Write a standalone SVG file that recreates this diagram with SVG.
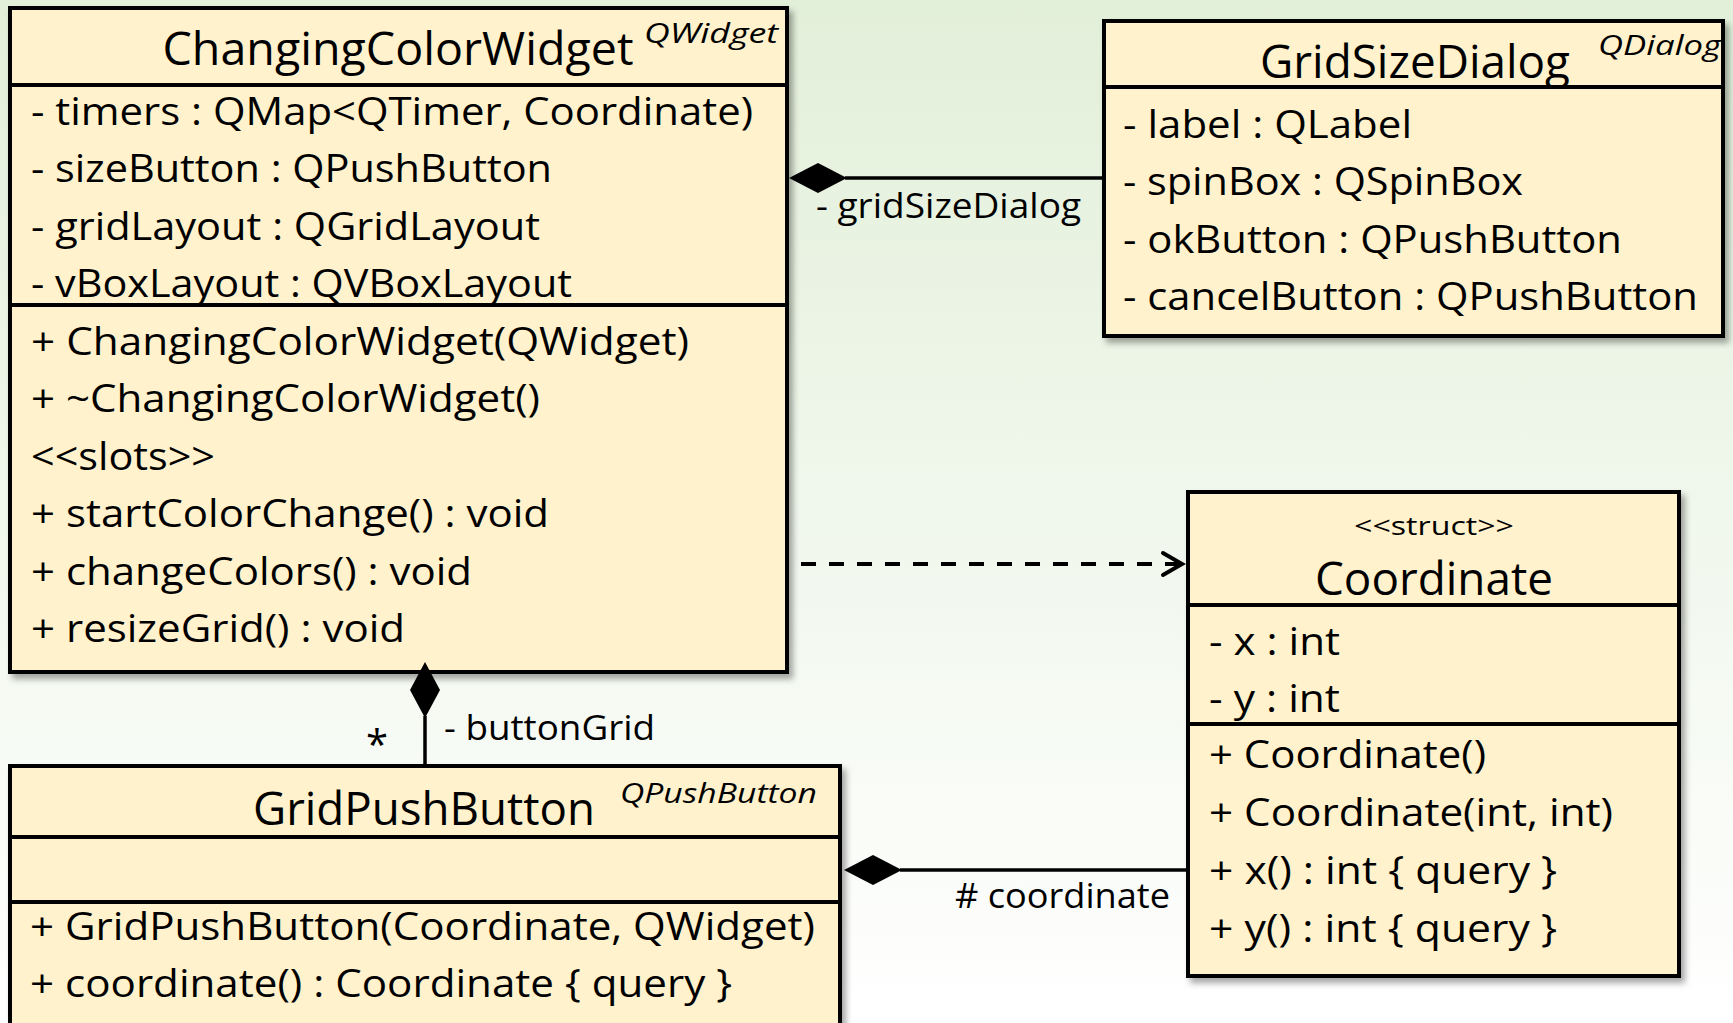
<svg xmlns="http://www.w3.org/2000/svg" width="1733" height="1023" viewBox="0 0 1733 1023">
  <defs>
    <linearGradient id="bg" x1="0" y1="0" x2="0" y2="1">
      <stop offset="0" stop-color="#e2efd9"/>
      <stop offset="1" stop-color="#ffffff"/>
    </linearGradient>
    <filter id="shadow" x="-5%" y="-5%" width="115%" height="115%">
      <feDropShadow dx="4" dy="5" stdDeviation="3" flood-color="#000" flood-opacity="0.35"/>
    </filter>
    <style>
      .box { fill: #fff2cc; stroke: #000; stroke-width: 4; }
      .div { stroke: #000; stroke-width: 4; }
      text { font-family: "Open Sans", Lato, "Liberation Sans", sans-serif; fill: #000; }
      .title { font-size: 45px; text-anchor: middle; }
      .stereo { font-size: 27px; font-style: italic; }
      .member { font-size: 38.5px; }
      .small { font-size: 26px; text-anchor: middle; }
      .label { font-size: 34px; }
      .star { font-size: 40px; }
      .line { stroke: #000; stroke-width: 3.5; fill: none; }
      .dash { stroke: #000; stroke-width: 4; fill: none; stroke-dasharray: 15 13; }
      .head { stroke: #000; stroke-width: 4; fill: none; stroke-linecap: round; stroke-linejoin: miter; }
      .diamond { fill: #000; stroke: none; }
    </style>
  </defs>
  <rect x="0" y="0" width="1733" height="1023" fill="url(#bg)"/>

  <g id="ChangingColorWidget">
    <rect class="box" x="10" y="8" width="777" height="664" filter="url(#shadow)"/>
    <line class="div" x1="10" y1="85" x2="787" y2="85"/>
    <line class="div" x1="10" y1="305" x2="787" y2="305"/>
    <text class="title" x="398" y="65" textLength="471" lengthAdjust="spacingAndGlyphs">ChangingColorWidget</text>
    <text class="stereo" x="644" y="43" textLength="134" lengthAdjust="spacingAndGlyphs">QWidget</text>
    <text class="member" x="31" y="125" textLength="722" lengthAdjust="spacingAndGlyphs">- timers : QMap&lt;QTimer, Coordinate)</text>
    <text class="member" x="31" y="182" textLength="521" lengthAdjust="spacingAndGlyphs">- sizeButton : QPushButton</text>
    <text class="member" x="31" y="240" textLength="509" lengthAdjust="spacingAndGlyphs">- gridLayout : QGridLayout</text>
    <text class="member" x="31" y="297" textLength="541" lengthAdjust="spacingAndGlyphs">- vBoxLayout : QVBoxLayout</text>
    <text class="member" x="31" y="355" textLength="658" lengthAdjust="spacingAndGlyphs">+ ChangingColorWidget(QWidget)</text>
    <text class="member" x="31" y="412" textLength="509" lengthAdjust="spacingAndGlyphs">+ ~ChangingColorWidget()</text>
    <text class="member" x="31" y="470" textLength="184" lengthAdjust="spacingAndGlyphs">&lt;&lt;slots&gt;&gt;</text>
    <text class="member" x="31" y="527" textLength="518" lengthAdjust="spacingAndGlyphs">+ startColorChange() : void</text>
    <text class="member" x="31" y="585" textLength="441" lengthAdjust="spacingAndGlyphs">+ changeColors() : void</text>
    <text class="member" x="31" y="642" textLength="374" lengthAdjust="spacingAndGlyphs">+ resizeGrid() : void</text>
  </g>

  <g id="GridSizeDialog">
    <rect class="box" x="1104" y="21" width="619" height="315" filter="url(#shadow)"/>
    <line class="div" x1="1104" y1="87" x2="1723" y2="87"/>
    <text class="title" x="1415" y="78" textLength="310" lengthAdjust="spacingAndGlyphs">GridSizeDialog</text>
    <text class="stereo" x="1598" y="55" textLength="123" lengthAdjust="spacingAndGlyphs">QDialog</text>
    <text class="member" x="1123" y="138" textLength="289" lengthAdjust="spacingAndGlyphs">- label : QLabel</text>
    <text class="member" x="1123" y="195" textLength="400" lengthAdjust="spacingAndGlyphs">- spinBox : QSpinBox</text>
    <text class="member" x="1123" y="253" textLength="499" lengthAdjust="spacingAndGlyphs">- okButton : QPushButton</text>
    <text class="member" x="1123" y="310" textLength="575" lengthAdjust="spacingAndGlyphs">- cancelButton : QPushButton</text>
  </g>

  <g id="Coordinate">
    <rect class="box" x="1188" y="492" width="491" height="484" filter="url(#shadow)"/>
    <line class="div" x1="1188" y1="605" x2="1679" y2="605"/>
    <line class="div" x1="1188" y1="724" x2="1679" y2="724"/>
    <text class="small" x="1434" y="535" textLength="160" lengthAdjust="spacingAndGlyphs">&lt;&lt;struct&gt;&gt;</text>
    <text class="title" x="1434" y="595" textLength="238" lengthAdjust="spacingAndGlyphs">Coordinate</text>
    <text class="member" x="1209" y="655" textLength="131" lengthAdjust="spacingAndGlyphs">- x : int</text>
    <text class="member" x="1209" y="712" textLength="131" lengthAdjust="spacingAndGlyphs">- y : int</text>
    <text class="member" x="1209" y="768" textLength="277" lengthAdjust="spacingAndGlyphs">+ Coordinate()</text>
    <text class="member" x="1209" y="826" textLength="404" lengthAdjust="spacingAndGlyphs">+ Coordinate(int, int)</text>
    <text class="member" x="1209" y="884" textLength="348" lengthAdjust="spacingAndGlyphs">+ x() : int { query }</text>
    <text class="member" x="1209" y="942" textLength="348" lengthAdjust="spacingAndGlyphs">+ y() : int { query }</text>
  </g>

  <g id="GridPushButton">
    <rect class="box" x="10" y="766" width="830" height="300" filter="url(#shadow)"/>
    <line class="div" x1="10" y1="837" x2="840" y2="837"/>
    <line class="div" x1="10" y1="902" x2="840" y2="902"/>
    <text class="title" x="424" y="825" textLength="342" lengthAdjust="spacingAndGlyphs">GridPushButton</text>
    <text class="stereo" x="620" y="803" textLength="197" lengthAdjust="spacingAndGlyphs">QPushButton</text>
    <text class="member" x="30" y="940" textLength="785" lengthAdjust="spacingAndGlyphs">+ GridPushButton(Coordinate, QWidget)</text>
    <text class="member" x="30" y="997" textLength="702" lengthAdjust="spacingAndGlyphs">+ coordinate() : Coordinate { query }</text>
  </g>

  <g id="connectors">
    <line class="line" x1="845" y1="178" x2="1104" y2="178"/>
    <polygon class="diamond" points="789,178 818,163 847,178 818,193"/>
    <text class="label" x="816" y="218" textLength="265" lengthAdjust="spacingAndGlyphs">- gridSizeDialog</text>

    <line class="dash" x1="801" y1="564" x2="1180" y2="564"/>
    <polyline class="head" points="1163,553 1182,564 1163,575"/>

    <line class="line" x1="425" y1="716" x2="425" y2="766"/>
    <polygon class="diamond" points="425,662 440,690 425,718 410,690"/>
    <text class="star" x="366" y="759">*</text>
    <text class="label" x="444" y="740" textLength="211" lengthAdjust="spacingAndGlyphs">- buttonGrid</text>

    <line class="line" x1="900" y1="870" x2="1188" y2="870"/>
    <polygon class="diamond" points="844,870 873,855 902,870 873,885"/>
    <text class="label" x="955" y="908" textLength="215" lengthAdjust="spacingAndGlyphs"># coordinate</text>
  </g>
</svg>
